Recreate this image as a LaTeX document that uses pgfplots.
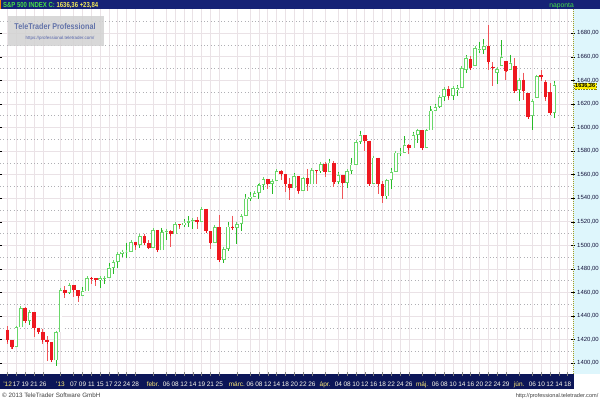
\documentclass[border=0pt]{standalone}
\usepackage{fontspec}
\setmainfont{Liberation Sans}
\usepackage{graphicx}
\usepackage{pgfplots}
\pgfplotsset{compat=1.18}
\usepackage{pgfplotstable}

\definecolor{navy}{RGB}{12,22,88}
\definecolor{hdr}{RGB}{22,34,118}
\definecolor{panel}{RGB}{222,246,252}
\definecolor{gridc}{RGB}{234,226,230}
\definecolor{gridd}{RGB}{175,175,180}
\definecolor{redbody}{RGB}{238,24,32}
\definecolor{redwick}{RGB}{240,85,90}
\definecolor{grnbody}{RGB}{105,215,105}
\definecolor{grnwick}{RGB}{40,185,40}
\definecolor{hgreen}{RGB}{70,225,70}
\definecolor{hyellow}{RGB}{240,232,90}
\definecolor{lblyellow}{RGB}{255,236,120}
\definecolor{lblwhite}{RGB}{250,248,235}
\definecolor{wm}{RGB}{100,116,170}
\definecolor{wmu}{RGB}{85,100,170}
\definecolor{axtxt}{RGB}{20,20,60}

% down candles (close < open)
\pgfplotstableread{
i o h l c
0 1428.48 1431.36 1416.00 1419.45
1 1419.45 1419.45 1411.88 1413.58
4 1446.79 1447.75 1435.80 1435.81
6 1443.67 1443.67 1422.58 1430.15
7 1430.15 1430.15 1424.66 1426.66
8 1426.66 1429.42 1416.43 1419.83
9 1419.83 1422.80 1401.80 1418.10
10 1418.10 1418.10 1401.58 1402.43
13 1462.42 1465.47 1455.53 1459.37
15 1466.47 1466.47 1456.62 1461.89
16 1461.89 1461.89 1451.64 1457.15
19 1472.12 1472.75 1467.58 1472.05
20 1472.05 1472.05 1465.69 1470.68
29 1502.96 1503.23 1496.33 1500.18
31 1507.84 1509.94 1500.11 1501.96
32 1501.96 1504.19 1496.76 1498.11
34 1513.17 1513.17 1495.02 1495.71
37 1512.12 1512.90 1498.49 1509.39
39 1517.93 1518.31 1513.61 1517.01
43 1521.38 1524.24 1514.14 1519.79
45 1530.94 1530.94 1511.41 1511.95
46 1511.95 1511.95 1497.29 1502.42
48 1515.60 1525.84 1487.85 1487.85
51 1515.99 1525.34 1514.46 1514.68
59 1556.22 1556.77 1548.24 1552.48
62 1563.21 1563.62 1555.74 1560.70
63 1560.70 1560.70 1545.13 1552.10
64 1552.10 1557.25 1538.57 1548.34
66 1558.71 1558.71 1543.55 1545.80
68 1556.89 1564.91 1546.22 1551.69
70 1563.75 1564.07 1551.90 1562.85
72 1569.18 1570.57 1558.47 1562.17
74 1570.25 1571.47 1549.80 1553.69
76 1559.98 1559.98 1539.50 1553.28
81 1593.30 1593.30 1579.97 1588.85
82 1588.84 1588.84 1552.28 1552.36
84 1574.57 1574.57 1543.69 1552.01
85 1552.03 1554.38 1536.03 1541.61
91 1585.16 1585.78 1577.56 1582.24
94 1597.55 1597.55 1581.28 1582.70
100 1632.69 1635.01 1623.09 1626.67
105 1658.07 1660.51 1648.60 1650.47
109 1669.39 1687.18 1648.86 1655.35
110 1651.62 1655.50 1635.53 1650.51
113 1656.57 1656.57 1640.05 1648.36
115 1652.13 1658.99 1630.74 1630.74
117 1640.73 1646.53 1623.62 1631.38
118 1629.05 1629.31 1607.09 1608.90
121 1644.67 1648.69 1639.26 1642.81
122 1638.64 1640.13 1622.92 1626.13
123 1629.94 1637.71 1610.92 1612.52
}\dn

% up candles (close >= open)
\pgfplotstableread{
i o h l c
2 1413.54 1430.67 1413.54 1430.36
3 1430.47 1448.00 1430.47 1446.79
5 1435.81 1443.70 1432.82 1443.69
11 1402.43 1426.74 1398.11 1426.19
12 1426.19 1462.43 1426.19 1462.42
14 1459.37 1467.94 1458.99 1466.47
17 1457.15 1464.73 1457.15 1461.02
18 1461.02 1472.30 1461.02 1472.12
21 1470.67 1473.31 1463.76 1472.34
22 1472.33 1473.96 1467.60 1472.63
23 1472.63 1485.16 1472.63 1480.94
24 1480.95 1485.98 1475.81 1485.98
25 1485.98 1492.56 1481.16 1492.56
26 1492.56 1496.13 1489.90 1494.81
27 1494.81 1502.27 1489.46 1494.82
28 1494.82 1503.26 1494.82 1502.96
30 1500.18 1509.35 1498.09 1507.84
33 1498.11 1514.41 1498.11 1513.17
35 1495.71 1514.96 1495.71 1511.29
36 1511.29 1513.99 1504.84 1512.12
38 1509.39 1518.31 1509.39 1517.93
40 1517.01 1522.29 1515.61 1519.43
41 1519.43 1524.69 1515.93 1520.33
42 1520.33 1523.14 1514.02 1521.38
44 1519.79 1530.94 1519.79 1530.94
47 1502.42 1515.64 1502.42 1515.60
49 1487.85 1498.99 1485.01 1496.94
50 1496.94 1520.08 1494.88 1515.99
52 1514.68 1519.99 1501.48 1518.20
53 1518.20 1525.27 1512.29 1525.20
54 1525.20 1543.47 1525.20 1539.79
55 1539.79 1545.25 1538.11 1541.46
56 1541.46 1545.78 1541.46 1544.26
57 1544.26 1552.48 1539.16 1551.18
58 1551.15 1556.27 1547.36 1556.22
60 1552.48 1556.39 1544.00 1554.52
61 1554.52 1563.32 1554.52 1563.23
65 1548.34 1561.56 1548.34 1558.71
67 1545.90 1557.74 1545.90 1556.89
69 1551.69 1563.95 1551.69 1563.77
71 1562.86 1570.28 1561.08 1569.19
73 1562.17 1573.66 1562.17 1570.25
75 1553.69 1562.60 1552.52 1559.98
77 1553.26 1563.07 1548.63 1563.07
78 1563.11 1573.89 1560.92 1568.61
79 1568.61 1589.07 1568.61 1587.73
80 1587.73 1597.35 1586.17 1593.37
83 1552.36 1575.35 1552.36 1574.57
86 1541.61 1555.89 1539.40 1555.25
87 1555.25 1565.55 1548.19 1562.50
88 1562.50 1579.58 1562.50 1578.78
89 1578.78 1583.00 1575.80 1578.79
90 1578.78 1592.64 1578.78 1585.16
92 1582.34 1596.65 1582.34 1593.61
93 1593.58 1597.57 1586.50 1597.57
95 1582.77 1598.60 1582.77 1597.59
96 1597.60 1618.46 1597.60 1614.42
97 1614.40 1619.77 1614.21 1617.50
98 1617.55 1626.03 1616.64 1625.96
99 1625.95 1632.78 1622.70 1632.69
101 1626.69 1633.70 1623.71 1633.70
102 1632.10 1636.00 1626.74 1633.77
103 1633.75 1651.10 1633.75 1650.34
104 1649.13 1661.49 1646.68 1658.78
106 1652.45 1667.47 1652.45 1667.47
107 1665.71 1672.84 1663.52 1666.29
108 1666.20 1674.93 1662.67 1669.16
111 1646.67 1649.78 1636.88 1649.60
112 1652.63 1674.21 1652.63 1660.06
114 1649.14 1661.91 1648.61 1654.41
116 1631.71 1640.42 1622.72 1640.42
119 1609.94 1622.56 1598.23 1622.56
120 1625.27 1644.40 1625.27 1643.38
124 1612.15 1639.25 1608.07 1636.36
}\up

\begin{document}
\begin{tikzpicture}[x=1bp,y=1bp]
\path[use as bounding box] (0,0) rectangle (600,400);
\fill[white] (0,0) rectangle (600,400);
\fill[panel] (573,26) rectangle (600,391);
\fill[navy] (0,11) rectangle (574,26);
\fill[hdr] (0,391) rectangle (600,400);
\fill[orange] (0,391) rectangle (1.3,400);

\begin{axis}[
  at={(0bp,26bp)}, anchor=south west,
  scale only axis, width=573bp, height=365bp,
  xmin=-1.72, xmax=128.2, ymin=1390.9, ymax=1700.6,
  axis line style={draw=none},
  xtick={0,2,4,6,8,12,15,17,19,21,23,25,27,29,33,36,38,40,42,44,46,48,52,55,57,59,61,63,65,67,69,72,75,77,79,81,83,85,87,89,91,94,97,99,101,103,105,107,109,111,113,116,119,121,123,125,127},
  xticklabels={\textcolor{lblyellow}{’12},17,19,21,26,\textcolor{lblyellow}{’13},07,09,11,15,17,22,24,28,\textcolor{lblyellow}{febr.},06,08,12,14,19,21,25,\textcolor{lblyellow}{márc.},06,08,12,14,18,20,22,26,\textcolor{lblyellow}{ápr.},04,08,10,12,16,18,22,24,26,\textcolor{lblyellow}{máj.},06,08,10,14,16,20,22,24,29,\textcolor{lblyellow}{jún.},06,10,12,14,18},
  xtick pos=bottom,
  xticklabel style={font=\fontsize{6.5}{7}\selectfont, text=lblwhite, anchor=base, yshift=-10.5bp, inner sep=0pt},
  xtick style={draw=gray, line width=0.5bp},
  ytick={1400,1420,...,1680},
  minor ytick={1390,1410,...,1690},
  ytick pos=both, yticklabel pos=right,
  tick align=center,
  major tick length=4bp, minor tick length=0pt,
  ytick style={draw=black, line width=0.5bp},
  yticklabel style={font=\fontsize{6}{7}\selectfont, text=axtxt, anchor=west, inner sep=0pt, xshift=2bp,
    /pgf/number format/.cd, fixed, fixed zerofill, precision=2, use comma, 1000 sep={}, assume math mode=true},
  xmajorgrids, ymajorgrids, yminorgrids,
  major grid style={draw=gridc, line width=0.7bp},
  minor grid style={draw=gridd, line width=0.6bp, dash pattern=on 0.8bp off 2.6bp},
]
% wicks
\addplot[draw=none, mark=none, forget plot, error bars/.cd, y dir=minus, y explicit, error mark=none,
  error bar style={line width=1bp, draw=redwick}]
  table[x=i, y=h, y error minus expr={\thisrow{h}-\thisrow{l}}] {\dn};
\addplot[draw=none, mark=none, forget plot, error bars/.cd, y dir=minus, y explicit, error mark=none,
  error bar style={line width=1bp, draw=grnwick}]
  table[x=i, y=h, y error minus expr={\thisrow{h}-\thisrow{l}}] {\up};
% red bodies
\addplot[draw=none, mark=none, forget plot, error bars/.cd, y dir=minus, y explicit, error mark=-,
  error mark options={line width=0.9bp, mark size=1.8bp, draw=redbody},
  error bar style={line width=3.6bp, draw=redbody}]
  table[x=i, y=o, y error minus expr={\thisrow{o}-\thisrow{c}}] {\dn};
% green hollow bodies
\addplot[draw=none, mark=none, forget plot, error bars/.cd, y dir=plus, y explicit, error mark=-,
  error mark options={line width=0.9bp, mark size=1.8bp, draw=grnbody},
  error bar style={line width=3.6bp, draw=grnbody}]
  table[x=i, y=o, y error plus expr={\thisrow{c}-\thisrow{o}}] {\up};
\addplot[draw=none, mark=none, forget plot, error bars/.cd, y dir=plus, y explicit, error mark=none,
  error bar style={line width=2.0bp, draw=white}]
  table[x=i, y expr={\thisrow{o}+0.7}, y error plus expr={max(\thisrow{c}-\thisrow{o}-1.4,0)}] {\up};
\end{axis}

\draw[olive!80, line width=0.6bp, dash pattern=on 1bp off 1bp] (573,26) -- (573,391);

% header
\node[anchor=base west, inner sep=0] at (3,392.8) {\scalebox{0.82}[1]{\bfseries\fontsize{7.3}{8}\selectfont\textcolor{hgreen}{S\&P 500 INDEX C:} \textcolor{hyellow}{1636,36 +23,84}}};
\node[anchor=base east, inner sep=0] at (574,392.8) {\fontsize{6.8}{7}\selectfont\textcolor{hgreen}{naponta}};

% watermark
\fill[gray!35, opacity=0.85] (8,354) rectangle (104,384);
\node[anchor=base, inner sep=0] at (55,371) {\scalebox{0.85}[1]{\bfseries\fontsize{8.5}{9}\selectfont\textcolor{wm}{TeleTrader Professional}}};
\node[anchor=base, inner sep=0] at (60,361) {\fontsize{4.5}{5}\selectfont\textcolor{wmu}{https://professional.teletrader.com/}};

% last price box
\node[anchor=west, fill=yellow, draw=olive, dash pattern=on 0.8bp off 0.8bp, inner sep=0.7bp, font=\fontsize{6}{7}\selectfont\bfseries] at (574.3,314) {\scalebox{0.92}[1]{1636,36}};

% footer
\node[anchor=base west, inner sep=0] at (2,2.6) {\fontsize{6.3}{7}\selectfont\textcolor{black!75}{© 2013 TeleTrader Software GmbH}};
\node[anchor=base east, inner sep=0] at (598.5,2.6) {\fontsize{5.6}{6}\selectfont\textcolor{black!75}{http://professional.teletrader.com/}};
\end{tikzpicture}
\end{document}
